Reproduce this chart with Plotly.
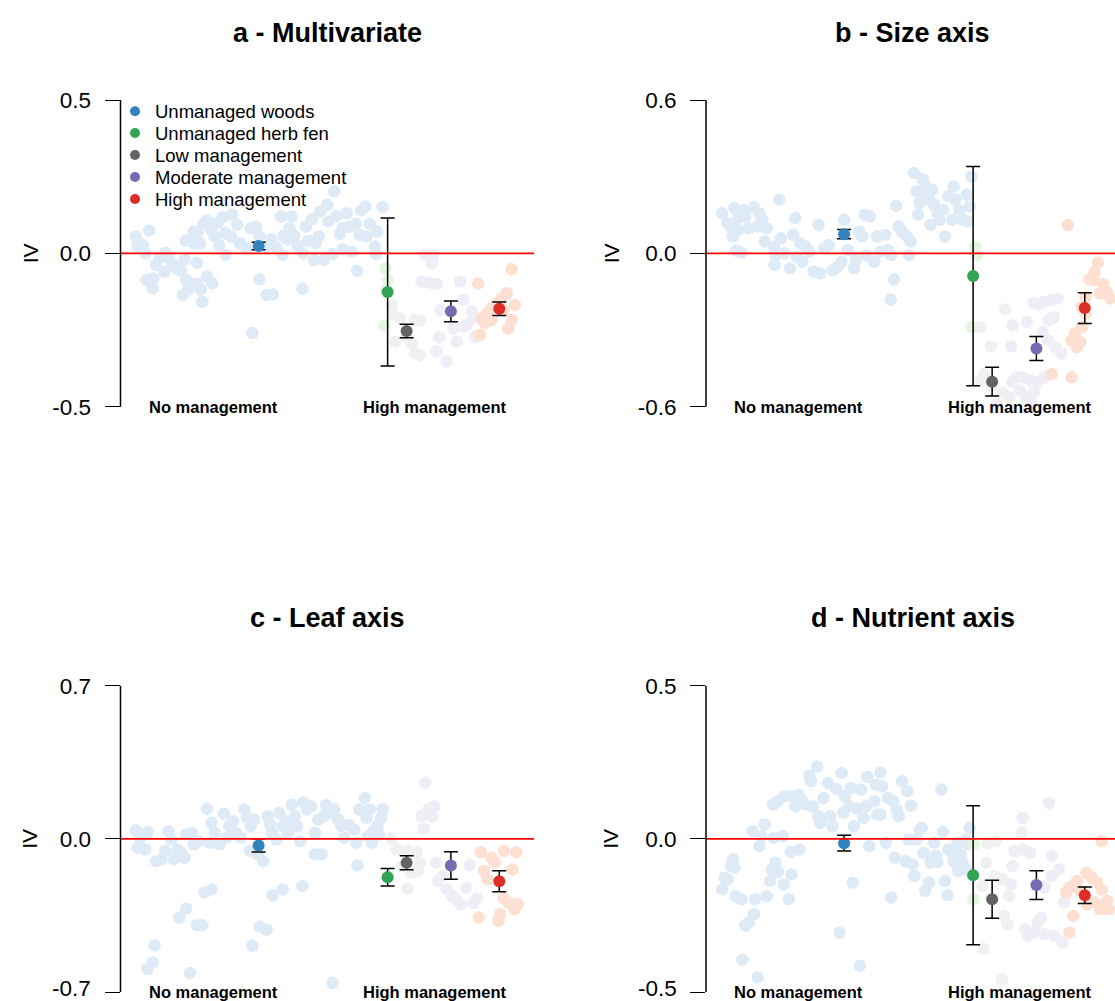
import plotly.graph_objects as go

# ---------------------------------------------------------------
# Site scores along the management gradient (x: gradient position,
# y: IV) for each vegetation group, one set per trait axis.
# ---------------------------------------------------------------
groups = ["Unmanaged woods", "Unmanaged herb fen", "Low management",
          "Moderate management", "High management"]
dark_cols = ["#3182bd", "#31a354", "#636363", "#756bb1", "#de2d26"]
light_cols = ["#deebf7", "#e5f5e0", "#f0f0f0", "#efedf5", "#fee0d2"]

# group mean positions on the gradient (shared by all panels)
mean_x = [33.4, 64.6, 69.2, 79.9, 91.6]

# ---- a - Multivariate ----
a_woods = [(3.7, 0.055), (4.1, 0.022), (5.4, 0.027), (6.9, 0.074), (6.0, 0.0), (8.6, -0.038),
           (9.5, -0.016), (10.9, 0.002), (11.6, -0.011), (10.6, -0.06), (12.5, -0.031), (13.5, -0.049),
           (14.7, -0.057), (15.5, -0.02), (6.3, -0.087), (7.8, -0.115), (8.0, -0.082), (15.9, -0.087),
           (15.1, -0.136), (16.4, -0.118), (18.4, -0.098), (19.4, -0.118), (19.8, -0.158), (20.9, -0.076),
           (22.2, -0.098), (18.5, -0.031), (15.8, 0.041), (17.7, 0.071), (17.8, 0.033), (19.2, 0.033),
           (20.9, 0.107), (22.0, 0.076), (22.7, 0.055), (23.9, 0.027), (24.7, 0.118), (25.4, -0.005),
           (27.0, 0.126), (26.7, 0.055), (28.2, 0.093), (28.9, 0.033), (30.4, 0.016), (31.5, 0.082),
           (32.8, 0.087), (33.6, 0.055), (33.6, -0.085), (35.3, -0.136), (36.8, -0.134), (31.9, -0.26),
           (37.7, 0.02), (38.8, 0.12), (39.2, -0.005), (40.3, 0.046), (40.9, 0.082), (41.4, 0.12),
           (42.0, 0.057), (42.8, 0.024), (44.2, 0.0), (44.0, -0.115), (44.8, 0.087), (45.4, 0.041),
           (46.3, 0.111), (46.8, -0.022), (47.2, 0.033), (48.0, 0.055), (48.3, 0.136), (49.1, -0.022),
           (50.0, 0.158), (50.3, 0.104), (51.3, -0.002), (51.7, 0.202), (52.3, 0.122), (53.0, 0.063),
           (53.7, 0.013), (54.7, 0.131), (55.4, 0.087), (56.0, 0.005), (56.9, 0.096), (57.2, -0.057),
           (58.2, 0.14), (59.2, 0.153), (59.5, 0.055), (60.3, 0.096), (61.5, 0.022), (62.1, 0.071),
           (63.4, 0.151), (61.8, -0.002), (25.3, 0.066), (23.5, 0.1), (20.1, 0.096), (18.7, 0.071),
           (35.1, 0.022), (36.5, 0.046), (39.4, 0.057), (57.8, 0.06), (53.8, 0.082)]
a_fen = [(64.1, -0.049), (64.7, -0.087), (63.8, -0.235), (64.2, -0.12)]
a_low = [(65.6, -0.169), (66.0, -0.201), (66.4, -0.288), (67.6, -0.212), (71.2, -0.218),
         (72.4, -0.218), (70.4, -0.293), (71.2, -0.326), (72.4, -0.332), (69.2, -0.272)]
a_mod = [(73.6, -0.006), (75.7, -0.006), (75.3, -0.033), (72.8, -0.093), (74.9, -0.096), (76.5, -0.1),
         (82.1, -0.093), (82.9, -0.152), (77.3, -0.185), (77.1, -0.274), (76.5, -0.321), (78.9, -0.353),
         (81.3, -0.288), (83.7, -0.234), (85.0, -0.19), (85.3, -0.212), (82.9, -0.239), (80.5, -0.245),
         (85.7, -0.272)]
a_high = [(86.5, -0.098), (94.6, -0.052), (93.4, -0.13), (92.2, -0.147), (91.0, -0.163), (89.8, -0.179),
          (88.6, -0.196), (87.4, -0.212), (86.9, -0.266), (95.4, -0.169), (94.6, -0.217), (93.8, -0.245),
          (89.8, -0.217), (92.6, -0.185), (88.1, -0.228)]
a_mean = [0.024, -0.126, -0.253, -0.189, -0.181]
a_err = [0.012, 0.241, 0.022, 0.034, 0.022]

# ---- b - Size axis ----
b_woods = [(3.9, 0.157), (5.2, 0.118), (6.9, 0.177), (7.8, 0.138), (9.1, 0.17), (9.5, 0.144),
           (11.6, 0.181), (12.9, 0.157), (13.6, 0.131), (6.0, 0.105), (6.5, 0.066), (7.8, 0.092),
           (7.3, 0.01), (8.6, 0.003), (10.3, 0.098), (12.5, 0.105), (14.7, 0.098), (14.2, 0.046),
           (16.4, 0.026), (16.8, -0.007), (16.6, -0.046), (17.7, 0.21), (18.1, 0.059), (19.0, 0.0),
           (20.3, -0.059), (21.1, 0.072), (21.6, 0.138), (22.0, -0.013), (22.8, 0.039), (23.3, -0.033),
           (24.1, 0.026), (25.0, 0.007), (26.0, -0.072), (27.2, 0.111), (27.6, -0.079), (28.6, 0.02),
           (29.7, 0.033), (30.6, -0.066), (31.9, -0.052), (32.8, -0.033), (33.4, 0.131), (34.3, 0.013),
           (35.8, -0.059), (36.2, -0.026), (37.1, 0.085), (37.8, 0.066), (38.4, 0.151), (38.8, -0.007),
           (39.7, 0.144), (40.7, -0.033), (41.4, 0.066), (42.2, 0.007), (43.3, 0.072), (44.0, 0.013),
           (44.8, -0.007), (45.5, -0.102), (44.7, -0.181), (46.0, 0.186), (46.6, 0.105), (47.4, 0.085),
           (48.7, 0.066), (49.5, 0.046), (49.1, -0.007), (50.3, 0.314), (52.4, 0.291), (50.9, 0.242),
           (51.7, 0.197), (51.3, 0.151), (52.6, 0.229), (53.9, 0.21), (54.7, 0.249), (55.2, 0.19),
           (54.3, 0.111), (56.0, 0.157), (57.3, 0.17), (57.8, 0.066), (58.6, 0.223), (59.9, 0.262),
           (60.3, 0.21), (59.5, 0.131), (61.2, 0.17), (62.1, 0.131), (63.1, 0.229), (63.8, 0.183),
           (64.2, 0.299), (63.4, 0.124), (56.5, 0.131), (53.0, 0.262)]
b_fen = [(65.1, 0.026), (65.5, -0.007), (64.2, -0.288)]
b_low = [(66.4, -0.288), (72.4, -0.22), (68.9, -0.364), (67.2, -0.472), (68.9, -0.517),
         (71.6, -0.544), (73.3, -0.563), (70.3, -0.59), (66.4, -0.498)]
b_mod = [(74.1, -0.282), (73.8, -0.364), (77.6, -0.269), (79.3, -0.194), (80.5, -0.199), (81.9, -0.19),
         (83.6, -0.183), (85.2, -0.177), (82.8, -0.262), (84.1, -0.249), (81.4, -0.308), (82.8, -0.341),
         (84.5, -0.367), (86.0, -0.393), (75.0, -0.485), (76.7, -0.485), (78.4, -0.498), (80.2, -0.504),
         (81.9, -0.485), (75.9, -0.537), (77.6, -0.563), (78.4, -0.576), (79.3, -0.544), (74.1, -0.504)]
b_high = [(87.5, 0.111), (94.8, -0.037), (92.7, -0.102), (93.9, -0.105), (96.1, -0.121), (96.9, -0.151),
          (97.8, -0.177), (95.3, -0.157), (91.8, -0.17), (90.9, -0.21), (90.9, -0.288), (89.2, -0.314),
          (88.4, -0.341), (89.7, -0.367), (90.5, -0.347), (91.8, -0.236), (88.4, -0.485), (83.6, -0.472),
          (94.0, -0.072)]
b_mean = [0.075, -0.089, -0.502, -0.372, -0.214]
b_err = [0.018, 0.429, 0.056, 0.047, 0.060]

# ---- c - Leaf axis ----
c_woods = [(3.7, 0.039), (4.1, -0.041), (6.0, -0.049), (6.6, 0.03), (4.7, 0.005), (8.6, -0.102),
           (9.9, -0.094), (10.8, -0.056), (11.6, 0.035), (12.3, -0.003), (12.9, -0.094), (13.8, -0.049),
           (14.7, -0.064), (15.5, -0.087), (15.9, 0.02), (17.2, 0.027), (17.7, -0.026), (19.0, -0.011),
           (20.9, 0.137), (21.6, -0.018), (22.0, 0.073), (22.8, 0.027), (23.9, -0.026), (25.0, 0.115),
           (25.6, 0.005), (26.3, 0.058), (27.2, 0.08), (28.0, 0.027), (29.1, 0.005), (30.0, 0.134),
           (30.6, 0.096), (31.5, 0.058), (32.3, 0.088), (31.3, -0.056), (33.2, -0.071), (34.5, -0.102),
           (35.6, 0.103), (36.2, 0.065), (36.6, 0.027), (37.7, -0.003), (38.4, 0.118), (39.2, 0.058),
           (40.1, 0.08), (40.5, 0.027), (41.4, 0.156), (42.2, 0.103), (42.7, 0.058), (43.5, -0.011),
           (44.2, 0.167), (45.1, 0.134), (46.1, 0.149), (47.0, 0.027), (47.0, -0.071), (48.7, -0.071),
           (47.8, 0.088), (49.1, 0.103), (49.7, 0.156), (50.9, 0.118), (51.7, 0.134), (52.6, 0.088),
           (53.4, 0.058), (54.1, 0.005), (55.2, 0.065), (56.5, 0.042), (57.0, -0.018), (57.3, -0.121),
           (57.8, 0.134), (59.1, 0.187), (59.5, 0.096), (60.3, 0.134), (59.9, 0.012), (60.8, -0.018),
           (62.1, 0.058), (63.0, 0.096), (63.4, 0.137), (62.5, 0.02), (61.2, 0.035),
           (20.3, -0.246), (22.0, -0.231), (14.2, -0.36), (15.9, -0.319), (18.5, -0.395), (19.8, -0.395),
           (8.2, -0.486), (7.8, -0.565), (6.5, -0.595), (16.8, -0.613), (31.9, -0.489), (33.6, -0.401),
           (35.3, -0.416), (36.8, -0.258), (39.2, -0.231), (44.0, -0.216), (51.3, -0.659)]
c_fen = [(64.7, -0.17)]
c_low = [(65.5, 0.0), (66.8, -0.049), (69.4, -0.056), (71.6, -0.061), (72.4, -0.109), (72.0, -0.147),
         (69.4, -0.228), (70.3, -0.155), (68.1, -0.125)]
c_mod = [(73.7, 0.255), (73.3, 0.046), (72.8, 0.103), (74.6, 0.137), (75.9, 0.149), (75.4, 0.103),
         (76.3, -0.109), (76.7, -0.193), (78.9, -0.231), (80.2, -0.261), (81.5, -0.284), (82.3, -0.299),
         (83.6, -0.223), (84.5, -0.121), (85.3, -0.292), (86.2, -0.273), (78.0, -0.17)]
c_high = [(87.1, -0.061), (89.7, -0.087), (90.5, -0.109), (92.7, -0.056), (95.7, -0.061), (94.8, -0.14),
          (87.9, -0.147), (88.8, -0.185), (92.7, -0.273), (93.9, -0.292), (95.3, -0.322), (96.1, -0.299),
          (86.6, -0.36), (91.4, -0.375), (91.8, -0.345)]
c_mean = [-0.030, -0.176, -0.109, -0.122, -0.194]
c_err = [0.030, 0.040, 0.032, 0.063, 0.048]

# ---- d - Nutrient axis ----
d_woods = [(3.9, -0.165), (4.5, -0.127), (5.2, -0.132), (6.5, -0.067), (6.9, -0.094), (6.0, -0.089),
           (7.1, -0.187), (8.6, -0.197), (9.5, -0.284), (10.3, -0.273), (11.6, -0.246), (8.8, -0.395),
           (12.5, -0.452), (11.2, 0.025), (12.9, -0.024), (14.2, 0.047), (13.4, 0.009), (11.9, -0.197),
           (14.7, -0.187), (15.5, -0.138), (15.9, -0.1), (16.8, -0.078), (16.4, 0.003), (18.6, 0.009),
           (17.4, -0.108), (18.8, -0.149), (20.0, -0.197), (20.7, -0.116), (20.5, -0.043), (22.6, -0.035),
           (16.2, 0.112), (17.4, 0.123), (19.0, 0.139), (20.3, 0.139), (21.6, 0.106), (22.4, 0.144),
           (23.3, 0.123), (24.1, 0.112), (25.0, 0.206), (25.4, 0.188), (25.9, 0.106), (26.9, 0.236),
           (27.2, 0.074), (27.6, 0.052), (28.4, 0.133), (29.5, 0.182), (30.0, 0.074), (30.6, 0.041),
           (31.5, 0.163), (32.3, -0.306), (32.8, 0.215), (33.2, 0.085), (33.6, 0.139), (35.0, 0.166),
           (34.7, 0.106), (35.5, -0.143), (35.8, 0.041), (36.6, 0.098), (37.2, -0.414), (37.5, 0.161),
           (38.1, 0.068), (38.8, 0.106), (39.0, 0.202), (39.5, -0.024), (40.7, 0.123), (41.1, 0.177),
           (41.4, 0.079), (42.2, 0.217), (42.6, 0.171), (42.2, 0.079), (43.5, -0.013), (44.0, 0.133),
           (44.8, -0.192), (45.3, 0.123), (46.1, 0.095), (46.6, 0.074), (45.7, -0.062), (47.4, 0.188),
           (48.3, -0.073), (48.7, 0.155), (49.0, -0.002), (49.6, 0.108), (50.0, -0.084), (50.4, -0.121),
           (50.9, -0.002), (51.7, 0.03), (52.2, 0.036), (52.6, -0.046), (53.0, -0.17), (53.9, -0.143),
           (54.3, -0.078), (55.2, -0.013), (55.6, -0.056), (56.0, -0.076), (56.9, 0.161), (57.3, 0.022),
           (57.8, -0.138), (58.4, -0.184), (58.6, -0.035), (59.5, -0.046), (59.9, -0.073), (60.8, -0.013),
           (61.0, -0.105), (61.6, -0.051), (62.1, -0.078), (62.9, -0.1), (63.8, 0.036), (63.4, -0.018),
           (62.8, -0.002)]
d_fen = [(64.8, -0.018), (64.7, -0.197)]
d_low = [(68.1, -0.015), (70.0, -0.008), (67.7, -0.078), (69.8, -0.121), (71.6, -0.132), (73.3, -0.187),
         (72.0, -0.252), (72.9, -0.279), (67.2, -0.36), (71.6, -0.458), (66.8, -0.154)]
d_mod = [(76.6, 0.068), (76.3, 0.02), (74.6, -0.04), (76.7, -0.035), (78.4, -0.046), (74.1, -0.089),
         (73.7, -0.149), (82.9, 0.117), (83.6, -0.056), (85.3, -0.1), (83.6, -0.121), (81.9, -0.159),
         (86.6, -0.208), (81.0, -0.257), (80.2, -0.273), (77.2, -0.295), (78.0, -0.317), (81.9, -0.311),
         (84.1, -0.317), (86.2, -0.338), (79.3, -0.306)]
d_high = [(95.7, -0.008), (87.9, -0.159), (89.7, -0.138), (92.0, -0.111), (93.3, -0.127), (94.6, -0.143),
          (95.7, -0.165), (97.0, -0.203), (95.3, -0.23), (94.0, -0.208), (92.2, -0.214), (88.8, -0.252),
          (87.9, -0.306), (90.5, -0.17), (87.1, -0.176), (97.4, -0.23)]
d_mean = [-0.014, -0.119, -0.197, -0.151, -0.184]
d_err = [0.026, 0.227, 0.062, 0.047, 0.027]

titles = ["a - Multivariate", "b - Size axis", "c - Leaf axis", "d - Nutrient axis"]
tick_vals = [[-0.5, 0.0, 0.5], [-0.6, 0.0, 0.6], [-0.7, 0.0, 0.7], [-0.5, 0.0, 0.5]]
tick_text = [["-0.5", "0.0", "0.5"], ["-0.6", "0.0", "0.6"], ["-0.7", "0.0", "0.7"], ["-0.5", "0.0", "0.5"]]
gradient_labels = ["No management", "High management"]
gradient_label_x = [22.4, 76.0]
y_label = "IV"

panels = [
    (a_woods, a_fen, a_low, a_mod, a_high, a_mean, a_err),
    (b_woods, b_fen, b_low, b_mod, b_high, b_mean, b_err),
    (c_woods, c_fen, c_low, c_mod, c_high, c_mean, c_err),
    (d_woods, d_fen, d_low, d_mod, d_high, d_mean, d_err),
]

# ---------------------------------------------------------------
# Page geometry (pixels)
# ---------------------------------------------------------------
W, H = 1115, 1001
FONT = "Liberation Sans, Arial, Helvetica, sans-serif"
TICK_SIZE = 22.5
col_axis_px = [120.5, 706.0]          # left edge of each column's plot region
panel_w_px = 413.5                     # width of a full plot region (gradient 0..100)
row_tick_px = [(100.0, 406.7), (685.7, 992.0)]   # pixel rows of top/bottom ticks
row_dom_px = [(85.0, 428.0), (665.0, 1001.0)]    # vertical extent of plot regions
title_y_px = [33.0, 618.0]
ylab_x_px = [30.0, 611.0]
legend_x_px = 115.0
legend_row_px = [111.7, 133.5, 155.5, 177.5, 199.5]

fig = go.Figure()
layout = dict(
    width=W, height=H,
    margin=dict(l=0, r=0, t=0, b=0),
    paper_bgcolor="white", plot_bgcolor="white",
    font=dict(family=FONT, color="black"),
    showlegend=True,
)
shapes, annotations = [], []

for i, (woods, fen, low, mod, high, means, errs) in enumerate(panels):
    row, col = divmod(i, 2)
    n = i + 1
    xa = "x" if n == 1 else f"x{n}"
    ya = "y" if n == 1 else f"y{n}"
    xkey = "xaxis" if n == 1 else f"xaxis{n}"
    ykey = "yaxis" if n == 1 else f"yaxis{n}"

    # horizontal layout: gradient 0..100 spans panel_w_px, clipped at page edge
    x0 = col_axis_px[col]
    x1 = min(x0 + panel_w_px, W)
    xmax = 100.0 * (x1 - x0) / panel_w_px
    # vertical layout from tick calibration
    vb, vt = tick_vals[i][0], tick_vals[i][-1]
    pt, pb = row_tick_px[row]
    dt, db = row_dom_px[row]
    ppu = (pb - pt) / (vt - vb)
    ytop = vt + (pt - dt) / ppu
    ybot = vb - (db - pb) / ppu

    layout[xkey] = dict(domain=[x0 / W, x1 / W], range=[0, xmax], visible=False,
                        anchor=ya, fixedrange=True)
    layout[ykey] = dict(domain=[1 - db / H, 1 - dt / H], range=[ybot, ytop], anchor=xa,
                        showgrid=False, zeroline=False, showline=False,
                        tickmode="array", tickvals=tick_vals[i], ticktext=tick_text[i],
                        ticks="outside", ticklen=15, tickwidth=1.4, tickcolor="black",
                        ticklabelstandoff=9,
                        tickfont=dict(family=FONT, size=TICK_SIZE, color="black"),
                        fixedrange=True)

    # the lowest tick label of the bottom row sits on the page edge; plotly drops
    # it, so write it as text kept just inside the page
    if db >= H:
        annotations.append(dict(text=tick_text[i][0], xref="paper", yref="paper",
                                x=(x0 - 27.5) / W, y=1 - (pb - 4) / H,
                                xanchor="right", yanchor="middle", showarrow=False,
                                font=dict(family=FONT, size=TICK_SIZE, color="black")))

    # site scores, faint colours
    for pts, colr, name in zip([woods, fen, low, mod, high], light_cols, groups):
        fig.add_trace(go.Scatter(
            x=[p[0] for p in pts], y=[p[1] for p in pts], mode="markers",
            marker=dict(size=12.5, color=colr, line=dict(width=0)),
            xaxis=xa, yaxis=ya, showlegend=False, hoverinfo="skip", name=name))

    # zero reference line
    shapes.append(dict(type="line", xref=f"{xa} domain", yref=ya, x0=0, x1=1, y0=0, y1=0,
                       line=dict(color="red", width=1.6), layer="above"))
    # y axis line between the outer ticks
    shapes.append(dict(type="line", xref=f"{xa} domain", yref=ya, x0=0, x1=0,
                       y0=tick_vals[i][0], y1=tick_vals[i][-1],
                       line=dict(color="black", width=1.5)))

    # group means with error bars
    for gx, gm, ge, colr, name in zip(mean_x, means, errs, dark_cols, groups):
        fig.add_trace(go.Scatter(
            x=[gx], y=[gm], mode="markers",
            marker=dict(size=12, color=colr, line=dict(width=0)),
            error_y=dict(type="data", array=[ge], visible=True, color="black",
                         thickness=1.5, width=7),
            xaxis=xa, yaxis=ya, showlegend=False, name=name))

    # panel title
    annotations.append(dict(text=f"<b>{titles[i]}</b>", xref="paper", yref="paper",
                            x=(x0 + panel_w_px / 2) / W, y=1 - title_y_px[row] / H,
                            xanchor="center", yanchor="middle", showarrow=False,
                            font=dict(family=FONT, size=27, color="black")))
    # y label
    annotations.append(dict(text=y_label, xref="paper", yref=ya, x=ylab_x_px[col] / W, y=0,
                            xanchor="center", yanchor="middle", textangle=-90, showarrow=False,
                            font=dict(family=FONT, size=21, color="black")))
    # gradient end labels
    for lx, lt in zip(gradient_label_x, gradient_labels):
        annotations.append(dict(text=f"<b>{lt}</b>", xref=xa, yref=ya, x=lx, y=vb,
                                xanchor="center", yanchor="middle", showarrow=False,
                                font=dict(family=FONT, size=16.5, color="black")))

# legend: one single-entry legend per group, stacked in panel a
for k, (colr, name) in enumerate(zip(dark_cols, groups)):
    lg = "legend" if k == 0 else f"legend{k + 1}"
    fig.add_trace(go.Scatter(x=[None], y=[None], mode="markers", name=name, legend=lg,
                             marker=dict(size=10, color=colr), showlegend=True))
    layout[lg] = dict(x=legend_x_px / W, y=1 - legend_row_px[k] / H,
                      xanchor="left", yanchor="middle",
                      bgcolor="rgba(0,0,0,0)", borderwidth=0,
                      font=dict(family=FONT, size=18.5, color="black"),
                      itemclick=False, itemdoubleclick=False)

layout["shapes"] = shapes
layout["annotations"] = annotations
fig.update_layout(**layout)
fig.write_html("out.html", config={"displayModeBar": False})
